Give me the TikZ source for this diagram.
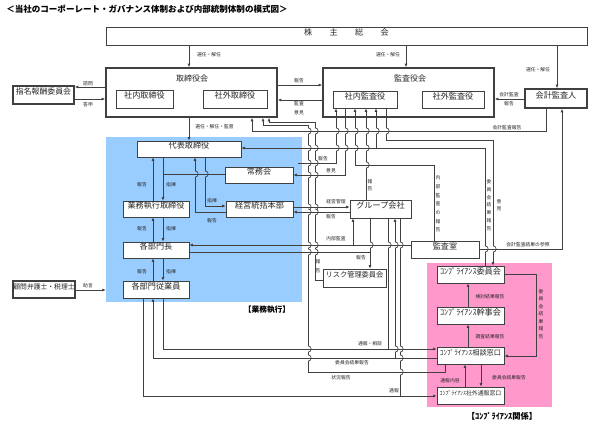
\documentclass[tikz,border=0pt]{standalone}
\usepackage{fontspec}
\newfontfamily\jp{Noto Sans CJK JP}
\usetikzlibrary{arrows.meta,fit}
\definecolor{bluearea}{HTML}{99CCFF}
\definecolor{pinkarea}{HTML}{FF99CC}
\definecolor{ln}{HTML}{404040}
\newcommand\myhop[3][white]{%
  \fill[#1] ({#2-0.9},{#3-3.2}) rectangle ({#2+0.9},{#3+3.2});
  \draw[conn] ({#2-1.3},#3) -- ({#2+1.3},#3);
  \draw[conn] (#2,{#3-3.2}) .. controls ({#2+4.2},{#3-3.2}) and ({#2+4.2},{#3+3.2}) .. (#2,{#3+3.2});}
\begin{document}
\begin{tikzpicture}[x=0.75pt,y=-0.75pt,
 box/.style={draw=ln,line width=0.5pt,fill=white,inner sep=0pt,text=black!85,font=\jp\fontsize{6.1}{7}\selectfont},
 tbox/.style={box,line width=1.2pt},
 area/.style={inner sep=0pt,draw=none},
 lab/.style={inner sep=0pt,text=black!85,font=\jp\fontsize{3.6}{4.3}\selectfont},
 vlab/.style={inner sep=0pt,text=black!85,align=center,font=\jp\fontsize{3.6}{#1}\selectfont},
 vlab/.default=5.5,
 ttl/.style={inner sep=0pt,text=black,font=\jp\bfseries\fontsize{6.4}{7.5}\selectfont},
 conn/.style={draw=ln,line width=0.5pt},
 arr/.style={conn,-{Latex[length=2.6pt,width=2.2pt]}}]

\useasboundingbox[fill=white] (0,0) rectangle (614,424);

\foreach \c in {143,153,163,189,195,205,252,263,269,336,345,353,355,366,370,376,386,388,395,400,406,434,445,465,468,481,485,493,546,557,562}
  \coordinate (x\c) at (\c,0);
\foreach \r in {85,87,99,100,148,163,174,175,206,207,212,245,249,252,280,290,349,356,358,396}
  \coordinate (y\r) at (0,\r);

\node[ttl,anchor=west] (title) at (6,9) {＜当社のコーポーレート・ガバナンス体制および内部統制体制の模式図＞};

% areas
\node[area,fill=bluearea,fit={(106,137)(302,302)}] (blue) {};
\node[area,fill=pinkarea,fit={(427,263)(552,407)}] (pink) {};

% boxes
\node[box,fit={(106,27)(587,45)}] (kabu) {株\hspace{13pt}主\hspace{13pt}総\hspace{13pt}会};
\node[tbox,fit={(106,68)(277,117)}] (tori) {};
\node[inner sep=0pt,font=\jp\fontsize{6}{7}\selectfont,text=black!85] (toriT) at (192,78) {取締役会};
\node[box,fit={(116,90)(173,108)}] (tin) {社内取締役};
\node[box,fit={(203,90)(267,108)}] (tout) {社外取締役};
\node[tbox,fit={(323,68)(494,117)}] (kansa) {};
\node[inner sep=0pt,font=\jp\fontsize{6}{7}\selectfont,text=black!85] (kansaT) at (410,78) {監査役会};
\node[box,fit={(333,91)(397,108)}] (kin) {社内監査役};
\node[box,fit={(422,91)(484,108)}] (kout) {社外監査役};
\node[tbox,fit={(525,89)(587,108)}] (kaikei) {会計監査人};
\node[tbox,fit={(13,86)(74,104)},font=\jp\fontsize{5.9}{6.5}\selectfont] (shimei) {指名報酬委員会};
\node[box,fit={(137,141)(241,157)}] (daihyo) {代表取締役};
\node[box,fit={(225,167)(293,183)}] (joumu) {常務会};
\node[box,fit={(123,201)(189,217)}] (gyomu) {業務執行取締役};
\node[box,fit={(226,201)(293,217)}] (keiei) {経営統括本部};
\node[box,fit={(123,242)(189,258)}] (bucho) {各部門長};
\node[box,fit={(123,281)(189,298)}] (jugyo) {各部門従業員};
\node[tbox,fit={(13,281)(75,298)},font=\jp\fontsize{5.1}{6}\selectfont] (komon) {顧問弁護士・税理士};
\node[box,fit={(350,200)(411,218)}] (group) {グループ会社};
\node[box,fit={(411,241)(479,258)}] (kshitsu) {監査室};
\node[box,fit={(323,269)(386,287)},font=\jp\fontsize{5.4}{6}\selectfont] (risk) {リスク管理委員会};
\node[box,fit={(437,266)(504,283)}] (iin) {ｺﾝﾌﾟﾗｲｱﾝｽ委員会};
\node[box,fit={(437,307)(504,324)}] (kanji) {ｺﾝﾌﾟﾗｲｱﾝｽ幹事会};
\node[box,fit={(437,347)(504,364)},font=\jp\fontsize{5.4}{6}\selectfont] (soudan) {ｺﾝﾌﾟﾗｲｱﾝｽ相談窓口};
\node[box,fit={(437,387)(504,404)},font=\jp\fontsize{4.4}{5}\selectfont] (shagai) {ｺﾝﾌﾟﾗｲｱﾝｽ社外通報窓口};
\node[ttl,font=\jp\bfseries\fontsize{5.8}{7}\selectfont] (gyomuT) at (267,310) {【業務執行】};
\node[ttl,font=\jp\bfseries\fontsize{6.2}{7}\selectfont] (compT) at (502,416) {【ｺﾝﾌﾟﾗｲｱﾝｽ関係】};

% top connectors
\draw[arr] (kabu.south -| x189) -- (tori.north -| x189);
\draw[arr] (kabu.south -| x406) -- (kansa.north -| x406);
\draw[arr] (kabu.south -| x557) -- (kaikei.north -| x557);
\draw[arr] (tori.west |- y87) -- (shimei.east |- y87);
\draw[arr] (shimei.east |- y99) -- (tori.west |- y99);
\draw[arr] (tori.east |- y85) -- (kansa.west |- y85);
\draw[arr] (kansa.west |- y100) -- (tori.east |- y100);
\draw[arr] (kaikei.west |- y99) -- (kansa.east |- y99);
\draw[arr] (tori.south -| x189) -- (daihyo.north -| x189);

% business execution
\draw[arr] (gyomu.north -| x153) -- (daihyo.south -| x153);
\draw[arr] (daihyo.south -| x163) -- (gyomu.north -| x163);
\draw[conn] (163,174) -- (joumu.west |- y174);
\draw[arr] (daihyo.south -| x205) |- (keiei.west |- y206);
\draw[arr] (keiei.west |- y212) -| (daihyo.south -| x195);
\draw[arr] (bucho.north -| x153) -- (gyomu.south -| x153);
\draw[arr] (gyomu.south -| x163) -- (bucho.north -| x163);
\draw[arr] (jugyo.north -| x153) -- (bucho.south -| x153);
\draw[arr] (bucho.south -| x163) -- (jugyo.north -| x163);
\draw[arr] (komon.east |- y290) -- (blue.west |- y290);

% audit lines
\draw[arr] (298,163) -- (336,163) -- (kin.south -| x336);
\draw[arr] (kin.south -| x345) |- (joumu.east |- y175);
\draw[arr] (kshitsu.north -| x434) |- (355,165) -- (kin.south -| x355);
\draw[arr] (group.north -| x366) -- (kin.south -| x366);
\draw[arr] (iin.north -| x485) |- (daihyo.east |- y148);
\draw[arr] (376,148) -- (kin.south -| x376);
\draw[arr] (kin.south -| x386) |- (493,140) -- (iin.north -| x493);
\draw[arr] (kaikei.south -| x546) |- (252,131) -- (tori.south -| x252);
\draw[arr] (kshitsu.east |- y249) -| (kaikei.south -| x562);
\draw[arr] (keiei.east |- y207) -- (group.west |- y207);
\draw[arr] (group.west |- y212) -- (keiei.east |- y212);
\draw[arr] (kshitsu.west |- y245) -- (bucho.east |- y245);
\draw[arr] (353,245) -- (group.south -| x353);
\draw[arr] (group.south -| x370) -- (risk.north -| x370);
\draw[conn] (bucho.east |- y252) -- (370,252);
\draw[arr] (risk.west |- y280) -| (315,122) -| (tori.south -| x269);
\draw[arr] (soudan.south -| x445) |- (308,372) -- (308,125) -| (tori.south -| x263);

% compliance
\draw[arr] (jugyo.south -| x163) |- (soudan.west |- y349);
\draw[conn] (group.south -| x388) -- (388,349);
\draw[arr] (soudan.west |- y358) -| (jugyo.south -| x153);
\draw[arr] (395,358) -- (group.south -| x395);
\draw[arr] (jugyo.south -| x143) |- (shagai.west |- y396);
\draw[conn] (group.south -| x400) -- (400,396);
\draw[arr] (kanji.north -| x468) -- (iin.south -| x468);
\draw[arr] (soudan.north -| x468) -- (kanji.south -| x468);
\draw[arr] (iin.east) -| (536,356) -- (soudan.east |- y356);
\draw[arr] (soudan.south -| x481) -- (shagai.north -| x481);
\draw[arr] (shagai.north -| x465) -- (soudan.south -| x465);

% hops
\foreach \p/\q in {336/131,336/148,345/131,345/148,355/131,355/148,366/131,366/148,366/165,376/131,386/131,
  485/249,493/249,370/245,388/245,395/245,400/245,395/349,400/349,400/358,400/372,
  308/131,308/148,308/163,308/175,308/207,308/212,308/245,308/252,308/349,308/358,
  315/131,315/148,315/163,315/175,315/207,315/212,315/245,315/252}
  {\myhop{\p}{\q}}
\myhop[bluearea]{195}{174}
\myhop[bluearea]{205}{174}

% labels
\node[lab] (l1) at (209,55) {選任・解任};
\node[lab] (l2) at (388,55) {選任・解任};
\node[lab] (l3) at (538,70) {選任・解任};
\node[lab] (l4) at (88,84) {諮問};
\node[lab] (l5) at (88,105) {答申};
\node[lab] (l6) at (299,81) {報告};
\node[lab] (l7) at (299,104) {監査};
\node[lab] (l8) at (299,113) {意見};
\node[lab] (l9) at (509,95) {会計監査};
\node[lab] (l10) at (509,104) {報告};
\node[lab,anchor=west] (l11) at (195,127) {選任・解任・監督};
\node[lab] (b1) at (142,185) {報告};
\node[lab] (b2) at (171,185) {指揮};
\node[lab] (b3) at (142,229) {報告};
\node[lab] (b4) at (171,229) {指揮};
\node[lab] (b5) at (142,272) {報告};
\node[lab] (b6) at (171,272) {指揮};
\node[lab] (b7) at (212,201) {指揮};
\node[lab] (b8) at (212,221) {報告};
\node[lab] (b9) at (88,286) {助言};
\node[lab] (m1) at (323,159) {報告};
\node[lab] (m2) at (331,171) {意見};
\node[vlab=5.3] (m3) at (370,185) {報\\告};
\node[vlab=6.5] (m4) at (438,204) {内\\部\\監\\査\\の\\報\\告};
\node[vlab=5.8] (m5) at (489,205) {委\\員\\会\\結\\果\\報\\告};
\node[vlab=5.3] (m6) at (499,205) {意\\見};
\node[lab] (m7) at (507,128) {会計監査報告};
\node[lab] (m8) at (528,245) {会計監査結果の参照};
\node[lab] (m9) at (336,202) {経営管理};
\node[lab] (m10) at (331,217) {報告};
\node[lab] (m11) at (336,239) {内部監査};
\node[lab] (m12) at (361,258) {報告};
\node[vlab=6.5] (m13) at (318,266) {報\\告};
\node[lab] (c1) at (370,344) {通報・相談};
\node[lab] (c2) at (352,363) {委員会結果報告};
\node[lab] (c3) at (341,378) {状況報告};
\node[lab] (c4) at (394,391) {通報};
\node[lab] (c5) at (490,297) {検討結果報告};
\node[lab] (c6) at (490,337) {調査結果報告};
\node[vlab=5.6] (c7) at (541,314) {委\\員\\会\\結\\果\\報\\告};
\node[lab] (c8) at (509,378) {委員会結果報告};
\node[lab] (c9) at (450,381) {通報内容};
\end{tikzpicture}
\end{document}
